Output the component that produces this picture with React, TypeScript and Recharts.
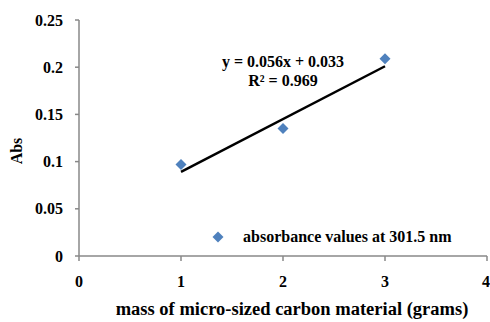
import React from 'react';
import { ComposedChart, Scatter, Line, XAxis, YAxis, Legend, ReferenceDot, Label } from 'recharts';

const massGrams = [1, 2, 3];
const absorbance = [0.097, 0.135, 0.209];
const trendX = [1, 3];
const trendY = [0.089, 0.201];
const xTicks = [0, 1, 2, 3, 4];
const yTicks = [0, 0.05, 0.1, 0.15, 0.2, 0.25];
const seriesName = 'absorbance values at 301.5 nm';
const equationText = 'y = 0.056x + 0.033';
const r2Text = 'R² = 0.969';

const pointData = massGrams.map((x, i) => ({ x, y: absorbance[i] }));
const trendData = trendX.map((x, i) => ({ x, y: trendY[i] }));

const BLUE = '#4F81BD';
const FONT = '"Liberation Serif", "Times New Roman", serif';

const Diamond = (props: any) => {
  const { cx, cy } = props;
  const s = 5.5;
  return <path d={`M${cx},${cy - s}L${cx + s},${cy}L${cx},${cy + s}L${cx - s},${cy}Z`} fill={BLUE} />;
};

const LegendContent = (props: any) => {
  const items = (props.payload || []).filter((p: any) => p.type !== 'none');
  return (
    <div style={{ fontFamily: FONT, fontWeight: 'bold', fontSize: 16, color: '#000', lineHeight: '18px' }}>
      {items.map((p: any, i: number) => (
        <div key={i} style={{ display: 'flex', alignItems: 'center' }}>
          <svg width={12} height={12} style={{ marginRight: 19 }}>
            <path d="M6,0.5L11.5,6L6,11.5L0.5,6Z" fill={BLUE} />
          </svg>
          <span>{p.value}</span>
        </div>
      ))}
    </div>
  );
};

const tickStyle = { fill: '#000', fontFamily: FONT, fontWeight: 'bold', fontSize: 16 };

export default function App() {
  return (
    <div style={{ position: 'absolute', left: 0, top: 0, background: '#fff' }}>
      <ComposedChart width={490} height={322} margin={{ top: 20, right: 3, bottom: 20, left: 0 }}>
        <XAxis
          type="number"
          dataKey="x"
          domain={[0, 4]}
          ticks={xTicks}
          allowDataOverflow
          height={46}
          tickSize={5}
          tickMargin={15}
          stroke="#888"
          strokeWidth={1.5}
          tick={tickStyle}
        >
          <Label
            value="mass of micro-sized carbon material (grams)"
            position="insideBottom"
            offset={-13}
            dx={9}
            style={{ fill: '#000', fontFamily: FONT, fontWeight: 'bold', fontSize: 18.5 }}
          />
        </XAxis>
        <YAxis
          type="number"
          dataKey="y"
          domain={[0, 0.25]}
          ticks={yTicks}
          allowDataOverflow
          width={79}
          tickSize={4}
          tickMargin={12}
          stroke="#888"
          strokeWidth={1.5}
          tick={tickStyle}
        >
          <Label
            value="Abs"
            angle={-90}
            position="insideLeft"
            offset={16}
            dy={13}
            style={{ fill: '#000', fontFamily: FONT, fontWeight: 'bold', fontSize: 16, textAnchor: 'middle' }}
          />
        </YAxis>
        <Line
          data={trendData}
          dataKey="y"
          type="linear"
          stroke="#000"
          strokeWidth={2.5}
          dot={false}
          activeDot={false}
          legendType="none"
          isAnimationActive={false}
        />
        <Scatter
          name={seriesName}
          data={pointData}
          dataKey="y"
          fill={BLUE}
          shape={<Diamond />}
          isAnimationActive={false}
        />
        <ReferenceDot x={2} y={0.2065} r={0} ifOverflow="visible">
          <Label value={equationText} position="center" style={{ fill: '#000', fontFamily: FONT, fontWeight: 'bold', fontSize: 16 }} />
        </ReferenceDot>
        <ReferenceDot x={2} y={0.1865} r={0} ifOverflow="visible">
          <Label value={r2Text} position="center" style={{ fill: '#000', fontFamily: FONT, fontWeight: 'bold', fontSize: 16 }} />
        </ReferenceDot>
        <Legend
          content={<LegendContent />}
          layout="horizontal"
          verticalAlign="middle"
          align="center"
          wrapperStyle={{ left: 212, top: 228, width: 270 }}
        />
      </ComposedChart>
    </div>
  );
}
